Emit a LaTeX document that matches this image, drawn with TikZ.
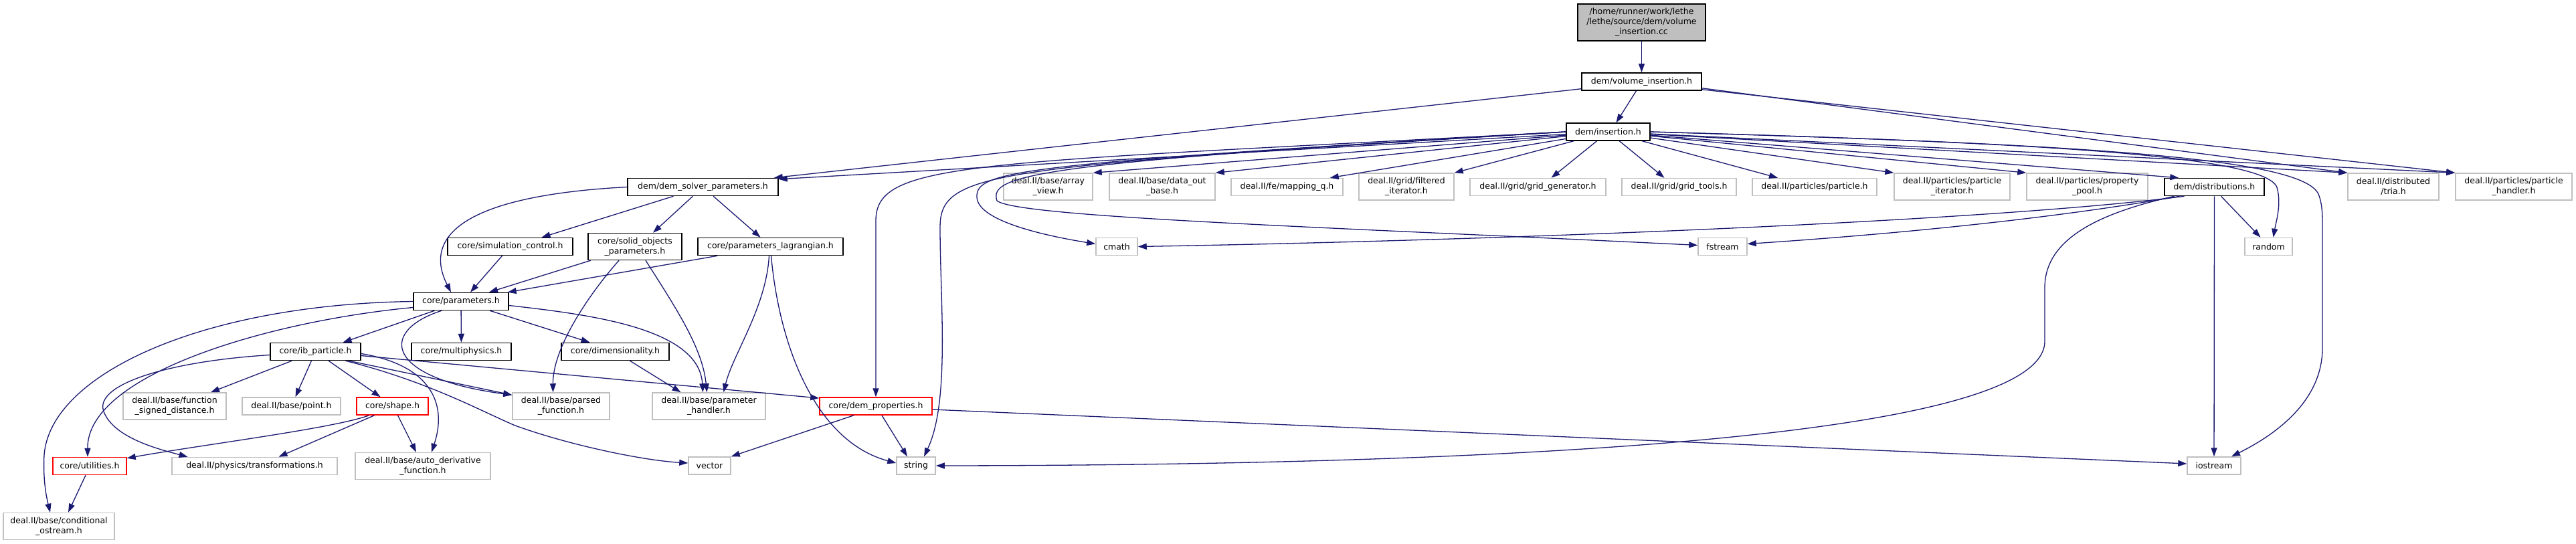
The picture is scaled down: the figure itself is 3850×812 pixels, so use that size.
\documentclass[tikz,border=0pt]{standalone}
\usepackage{fontspec}
\setmainfont{DejaVu Sans}
\usetikzlibrary{arrows.meta,positioning}
\definecolor{midnight}{HTML}{191970}
\definecolor{grey75}{HTML}{BFBFBF}
\definecolor{cutred}{HTML}{FF0000}
\tikzset{
  basebox/.style={rectangle,fill=white,align=center,inner sep=0pt,line width=1.5pt,minimum height=26pt,font=\fontsize{12.5}{15}\selectfont},
  docbox/.style={basebox,draw=black},
  extbox/.style={basebox,draw=grey75},
  cutbox/.style={basebox,draw=cutred},
  rootbox/.style={basebox,draw=black,fill=grey75},
  dep/.style={-{Triangle[length=13pt,width=9pt]},line width=1.3pt,draw=midnight}
}

\begin{document}
\begin{tikzpicture}[
    x=1pt,y=-1pt,
    two/.style={minimum height=40pt}
  ]
  \fill[white] (0,0) rectangle (3850,812);
  \useasboundingbox (0,0) rectangle (3850,812);

  \node[rootbox,minimum width=191pt,minimum height=55pt] (root) at (2453.5,33.5) {/home/runner/work/lethe\\/lethe/source/dem/volume\\\_insertion.cc};
  \node[docbox,minimum width=179pt] (volins) at (2453.5,122) {dem/volume\_insertion.h};
  \node[docbox,minimum width=125pt] (ins) at (2403.5,197) {dem/insertion.h};

  \node[docbox,minimum width=225pt] (dsp) at (1050.5,279.5) {dem/dem\_solver\_parameters.h};
  \node[extbox,two,minimum width=133pt] (arrview) at (1566.5,279) {deal.II/base/array\\\_view.h};
  \node[extbox,two,minimum width=158pt] (dataout) at (1737,279) {deal.II/base/data\_out\\\_base.h};
  \node[extbox,minimum width=167pt] (mappq) at (1923.5,279.5) {deal.II/fe/mapping\_q.h};
  \node[extbox,two,minimum width=142pt] (filtit) at (2102,279) {deal.II/grid/filtered\\\_iterator.h};
  \node[extbox,minimum width=203pt] (gridgen) at (2298.5,279.5) {deal.II/grid/grid\_generator.h};
  \node[extbox,minimum width=171pt] (gridtools) at (2509.5,279.5) {deal.II/grid/grid\_tools.h};
  \node[extbox,minimum width=186pt] (particle) at (2712,279.5) {deal.II/particles/particle.h};
  \node[extbox,two,minimum width=173pt] (partit) at (2917.5,279) {deal.II/particles/particle\\\_iterator.h};
  \node[extbox,two,minimum width=181pt] (proppool) at (3119.5,279) {deal.II/particles/property\\\_pool.h};
  \node[docbox,minimum width=149pt] (distr) at (3309.5,279.5) {dem/distributions.h};
  \node[extbox,two,minimum width=136pt] (tria) at (3577,279) {deal.II/distributed\\/tria.h};
  \node[extbox,two,minimum width=174pt] (parthandler) at (3757,279) {deal.II/particles/particle\\\_handler.h};

  \node[docbox,minimum width=187pt] (simctrl) at (762.5,368.5) {core/simulation\_control.h};
  \node[docbox,two,minimum width=140pt] (solid) at (949,368.5) {core/solid\_objects\\\_parameters.h};
  \node[docbox,minimum width=217pt] (plag) at (1151.5,368.5) {core/parameters\_lagrangian.h};
  \node[extbox,minimum width=62pt] (cmath) at (1669,368.5) {cmath};
  \node[extbox,minimum width=73pt] (fstream) at (2574.5,368.5) {fstream};
  \node[extbox,minimum width=71pt] (random) at (3390.5,368.5) {random};

  \node[docbox,minimum width=142pt] (params) at (689,450.5) {core/parameters.h};

  \node[docbox,minimum width=135pt] (ibp) at (471.5,525.5) {core/ib\_particle.h};
  \node[docbox,minimum width=149pt] (multi) at (689.5,525.5) {core/multiphysics.h};
  \node[docbox,minimum width=161pt] (dim) at (919.5,525.5) {core/dimensionality.h};

  \node[extbox,two,minimum width=154pt] (fsd) at (261,607) {deal.II/base/function\\\_signed\_distance.h};
  \node[extbox,minimum width=147pt] (point) at (435.5,607) {deal.II/base/point.h};
  \node[cutbox,minimum width=107pt] (shape) at (586.5,607) {core/shape.h};
  \node[extbox,two,minimum width=145pt] (parsed) at (838.5,607) {deal.II/base/parsed\\\_function.h};
  \node[extbox,two,minimum width=169pt] (phandler) at (1059.5,607) {deal.II/base/parameter\\\_handler.h};
  \node[cutbox,minimum width=168pt] (demprop) at (1309,607) {core/dem\_properties.h};

  \node[cutbox,minimum width=110pt] (util) at (134,696.5) {core/utilities.h};
  \node[extbox,minimum width=247pt] (transf) at (380.5,696.5) {deal.II/physics/transformations.h};
  \node[extbox,two,minimum width=202pt] (autod) at (632,696.5) {deal.II/base/auto\_derivative\\\_function.h};
  \node[extbox,minimum width=63pt] (vector) at (1060.5,696) {vector};
  \node[extbox,minimum width=58pt] (string) at (1369,696) {string};
  \node[extbox,minimum width=80pt] (iostream) at (3309,696) {iostream};

  \node[extbox,two,minimum width=166pt] (condos) at (88,786.5) {deal.II/base/conditional\\\_ostream.h};

  % volume_insertion.cc / volume_insertion.h
  \draw[dep] (root) -- (volins);
  \draw[dep] ([xshift=-8pt]volins.south) -- ([xshift=12pt]ins.north);
  \draw[dep] ([yshift=3pt]volins.south west) -- ([xshift=-7pt]dsp.north east);
  \draw[dep] ([yshift=4pt]volins.south east) -- (tria.north west);
  \draw[dep] ([yshift=2pt]volins.south east) -- (parthandler.north west);

  % insertion.h
  \draw[dep] (ins) -- ([yshift=-2pt]dsp.north east);
  \draw[dep] (ins) -- (arrview.north east);
  \draw[dep] (ins) -- (dataout.north east);
  \draw[dep] (ins) -- ([xshift=-20pt]mappq.north east);
  \draw[dep] (ins) -- (filtit.north east);
  \draw[dep] (ins) -- ([xshift=20pt]gridgen.north);
  \draw[dep] (ins) -- ([xshift=-22pt]gridtools.north);
  \draw[dep] (ins) -- ([xshift=-55pt]particle.north);
  \draw[dep] (ins) -- (partit.north west);
  \draw[dep] (ins) -- (proppool.north west);
  \draw[dep] (ins) -- ([xshift=22pt]distr.north west);
  \draw[dep] (ins) -- (tria.north west);
  \draw[dep] (ins) -- (parthandler.north west);
  \draw[dep] (ins.west) .. controls (1450,245) and (1309,240) .. (1309,330) -- (demprop.north);
  \draw[dep] (ins.west) .. controls (1480,250) and (1405,255) .. (1405,340) .. controls (1405,450) and (1420,600) .. ([xshift=12pt]string.north);
  \draw[dep] (ins.west) .. controls (1520,245) and (1458,255) .. (1460,295) .. controls (1462,330) and (1560,352) .. ([yshift=4pt]cmath.west);
  \draw[dep] (ins.west) .. controls (1540,243) and (1478,262) .. (1490,300) .. controls (1520,325) and (2000,340) .. ([yshift=2pt]fstream.west);
  \draw[dep] (ins.east) .. controls (3000,212) and (3385,230) .. (3403,280) .. controls (3410,305) and (3402,330) .. ([xshift=7pt]random.north);
  \draw[dep] (ins.east) .. controls (3100,215) and (3440,235) .. (3465,290) .. controls (3471,305) and (3471,320) .. (3471,340) -- (3471,520) .. controls (3471,600) and (3400,650) .. ([xshift=26pt]iostream.north);

  % dem_solver_parameters.h and its includes
  \draw[dep] (dsp) -- ([xshift=47pt]simctrl.north);
  \draw[dep] (dsp) -- ([xshift=27pt]solid.north);
  \draw[dep] (dsp) -- ([xshift=-15pt]plag.north);
  \draw[dep] (dsp.west) .. controls (700,292) and (630,350) .. ([xshift=-15pt]params.north);
  \draw[dep] (simctrl) -- ([xshift=14pt]params.north);
  \draw[dep] (solid) -- ([xshift=42pt]params.north);
  \draw[dep] (plag) -- ([xshift=-2pt]params.north east);
  \draw[dep] ([xshift=-24pt]solid.south) .. controls (880,440) and (826,520) .. ([xshift=-12pt]parsed.north);
  \draw[dep] ([xshift=16pt]solid.south) .. controls (1010,460) and (1050,520) .. ([xshift=-3pt]phandler.north);
  \draw[dep] ([xshift=-2pt]plag.south) .. controls (1145,460) and (1095,530) .. ([xshift=22pt]phandler.north);
  \draw[dep] ([xshift=1pt]plag.south) .. controls (1165,520) and (1220,660) .. ([yshift=4pt]string.west);

  % parameters.h
  \draw[dep] (params) -- ([xshift=41pt]ibp.north);
  \draw[dep] (params) -- (multi);
  \draw[dep] (params) -- ([xshift=-38pt]dim.north);
  \draw[dep] ([xshift=-29pt]params.south) .. controls (565,495) and (575,565) .. ([yshift=-4pt]parsed.north west);
  \draw[dep] ([yshift=-6pt]params.east) .. controls (880,470) and (1045,490) .. ([xshift=-9pt]phandler.north);
  \draw[dep] ([yshift=-9pt]params.west) .. controls (400,480) and (130,560) .. ([xshift=-3pt]util.north);
  \draw[dep] (params.west) .. controls (300,455) and (75,560) .. (66,680) .. controls (64,720) and (70,745) .. ([xshift=-13pt]condos.north);

  % ib_particle.h
  \draw[dep] (ibp) -- ([xshift=54pt]fsd.north);
  \draw[dep] (ibp) -- ([xshift=6pt]point.north);
  \draw[dep] (ibp) -- ([xshift=-18pt]shape.north);
  \draw[dep] ([xshift=50pt]ibp.south) -- ([yshift=-4pt]parsed.north west);
  \draw[dep] ([yshift=-6pt]ibp.east) -- ([yshift=12pt]demprop.west);
  \draw[dep] ([yshift=-3pt]ibp.east) .. controls (640,545) and (670,600) .. ([xshift=13pt]autod.north);
  \draw[dep] ([xshift=45pt]ibp.south) .. controls (640,570) and (720,615) .. (770,636) .. controls (850,665) and (960,688) .. ([yshift=4pt]vector.west);
  \draw[dep] ([yshift=-5pt]ibp.west) .. controls (250,540) and (140,575) .. (155,615) .. controls (170,655) and (240,672) .. ([xshift=-100pt]transf.north);

  % shape.h, dimensionality.h, utilities.h
  \draw[dep] ([xshift=-35pt]shape.south) .. controls (500,640) and (300,665) .. ([yshift=-2pt]util.north east);
  \draw[dep] ([xshift=-27pt]shape.south) -- ([xshift=36pt]transf.north);
  \draw[dep] ([xshift=8pt]shape.south) -- ([xshift=-10pt]autod.north);
  \draw[dep] ([xshift=22pt]dim.south) -- ([xshift=-42pt]phandler.north);
  \draw[dep] ([xshift=-6pt]util.south) -- ([xshift=14pt]condos.north);

  % dem_properties.h
  \draw[dep] ([xshift=-33pt]demprop.south) -- (vector.north east);
  \draw[dep] ([xshift=9pt]demprop.south) -- ([xshift=-13pt]string.north);
  \draw[dep] ([yshift=-5pt]demprop.east) -- ([yshift=3pt]iostream.west);

  % distributions.h
  \draw[dep] ([xshift=-45pt]distr.south) .. controls (3000,328) and (2300,358) .. (cmath.east);
  \draw[dep] ([xshift=-52pt]distr.south) .. controls (3050,330) and (2800,352) .. ([yshift=4pt]fstream.east);
  \draw[dep] ([xshift=10pt]distr.south) -- ([xshift=-12pt]random.north);
  \draw[dep] (distr) -- (iostream);
  \draw[dep] ([xshift=-60pt]distr.south) .. controls (3130,320) and (3056,360) .. (3056,430) -- (3056,510) .. controls (3056,640) and (2400,695) .. (string.east);
\end{tikzpicture}
\end{document}
